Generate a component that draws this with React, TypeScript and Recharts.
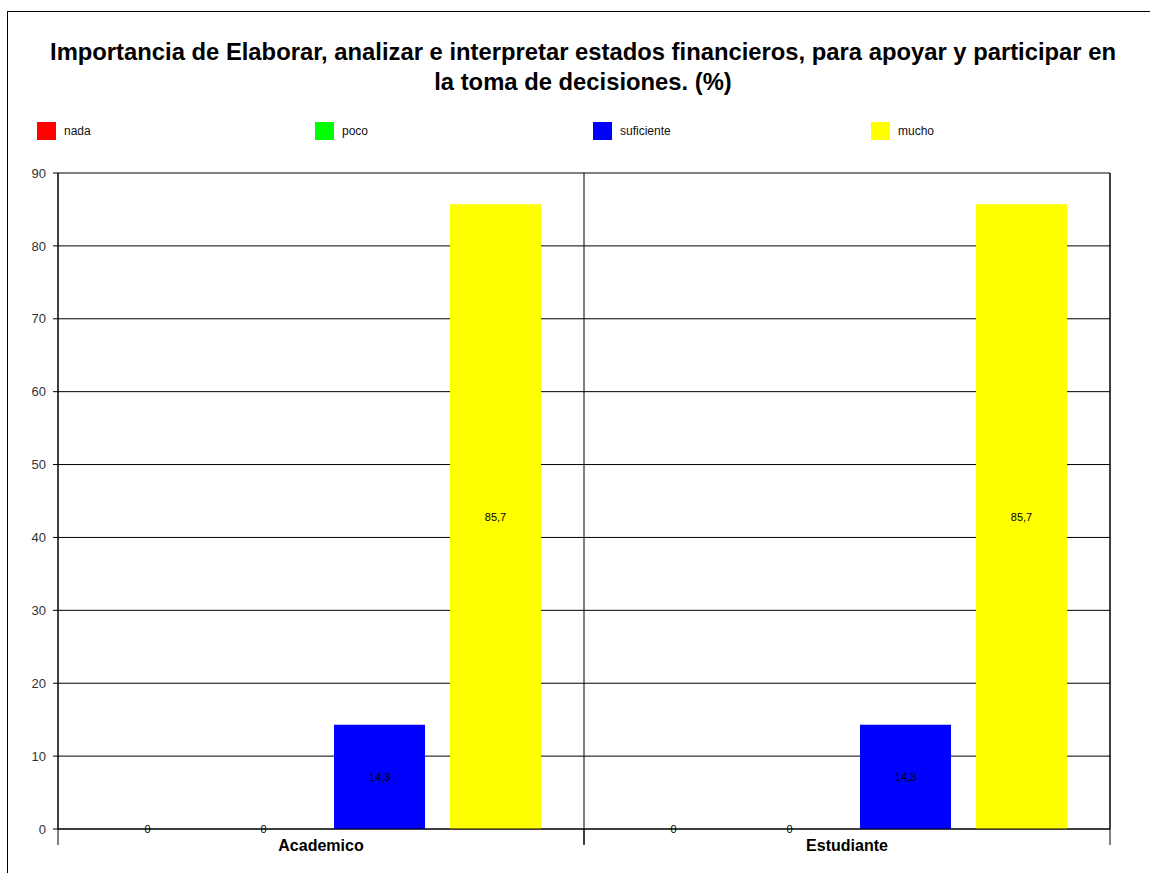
import { Bar, BarChart, CartesianGrid, LabelList, XAxis, YAxis } from "recharts"

const categories = ["Academico", "Estudiante"]
const nada = [0, 0]
const poco = [0, 0]
const suficiente = [14.3, 14.3]
const mucho = [85.7, 85.7]
const yTicks = [0, 10, 20, 30, 40, 50, 60, 70, 80, 90]

const series = [
  { key: "nada", name: "nada", color: "#ff0000" },
  { key: "poco", name: "poco", color: "#00ff00" },
  { key: "suficiente", name: "suficiente", color: "#0000ff" },
  { key: "mucho", name: "mucho", color: "#ffff00" },
]

const data = categories.map((name, i) => ({
  name,
  nada: nada[i],
  poco: poco[i],
  suficiente: suficiente[i],
  mucho: mucho[i],
}))

const font = "'Liberation Sans', Arial, sans-serif"

if (typeof document !== "undefined") {
  document.documentElement.style.overflow = "hidden"
}

const fmt = (v: any) => String(v).replace(".", ",")

// category boundaries: edges of each band of the x axis
const boundaries = (props: any) => {
  const off = props.offset || {}
  const left = off.left ?? 0
  const w = off.width ?? props.width ?? 0
  const step = w / categories.length
  return [...categories.map((_, i) => left + i * step), left + w]
}

function CategoryTick(props: any) {
  const { x, y, payload, width } = props
  const half = payload.offset || width / categories.length / 2
  const axisY = y - 11
  return (
    <g>
      <line x1={x - half} x2={x - half} y1={axisY} y2={axisY + 16} stroke="#000" />
      <line x1={x + half} x2={x + half} y1={axisY} y2={axisY + 16} stroke="#000" />
      <text x={x} y={y} dy="0.71em" textAnchor="middle" fontFamily={font} fontWeight="bold" fontSize={16} fill="#000">
        {payload.value}
      </text>
    </g>
  )
}

function Legend() {
  return (
    <>
      {series.map((s, i) => (
        <div
          key={s.key}
          style={{
            position: "absolute",
            top: 122,
            left: 37 + i * 278,
            display: "flex",
            alignItems: "center",
            fontFamily: font,
            fontSize: 12,
            color: "#111",
          }}
        >
          <span style={{ width: 19, height: 18, background: s.color, display: "inline-block", marginRight: 8 }} />
          {s.name}
        </div>
      ))}
    </>
  )
}

export default function App() {
  return (
    <div style={{ position: "fixed", left: 0, top: 0, width: 1150, height: 873, background: "#fff", overflow: "hidden" }}>
      <div style={{ position: "absolute", left: 7, top: 11, width: 1143, height: 1, background: "#000" }} />
      <div style={{ position: "absolute", left: 7, top: 11, width: 1, height: 862, background: "#000" }} />
      <div
        style={{
          position: "absolute",
          top: 37,
          left: 12,
          width: 1142,
          textAlign: "center",
          fontFamily: font,
          fontWeight: "bold",
          fontSize: 23.8,
          lineHeight: "30px",
          color: "#000",
        }}
      >
        Importancia de Elaborar, analizar e interpretar estados financieros, para apoyar y participar en
        <br />
        la toma de decisiones. (%)
      </div>
      <Legend />
      <div style={{ position: "absolute", top: 12, left: 8 }}>
        <BarChart
          width={1142}
          height={861}
          data={data}
          margin={{ top: 161, right: 0, bottom: 14, left: 0 }}
          barSize={91}
          barGap={25}
        >
          <CartesianGrid
            yAxisId="left"
            stroke="#000"
            strokeOpacity={1}
            verticalCoordinatesGenerator={boundaries}
          />
          <XAxis
            dataKey="name"
            height={30}
            tickLine={false}
            axisLine={{ stroke: "#000" }}
            tickMargin={5}
            tick={CategoryTick}
          />
          <YAxis
            yAxisId="left"
            domain={[0, 90]}
            ticks={yTicks}
            width={50}
            tickSize={5}
            tickMargin={7}
            axisLine={{ stroke: "#000" }}
            tickLine={{ stroke: "#000" }}
            tick={{ fontFamily: font, fontSize: 13, fill: "#333" }}
          />
          <YAxis
            yAxisId="right"
            orientation="right"
            domain={[0, 90]}
            ticks={yTicks}
            width={40}
            tickSize={5}
            tickMargin={5}
            axisLine={{ stroke: "#000" }}
            tickLine={{ stroke: "#000" }}
            tick={{ fontFamily: font, fontSize: 13, fill: "#333" }}
          />
          {series.map((s) => (
            <Bar
              key={s.key}
              yAxisId="left"
              dataKey={s.key}
              name={s.name}
              fill={s.color}
              minPointSize={0.01}
              isAnimationActive={false}
            >
              <LabelList
                dataKey={s.key}
                position="center"
                formatter={fmt}
                style={{ fontFamily: font, fontSize: 11, fill: "#000" }}
              />
            </Bar>
          ))}
        </BarChart>
      </div>
    </div>
  )
}
